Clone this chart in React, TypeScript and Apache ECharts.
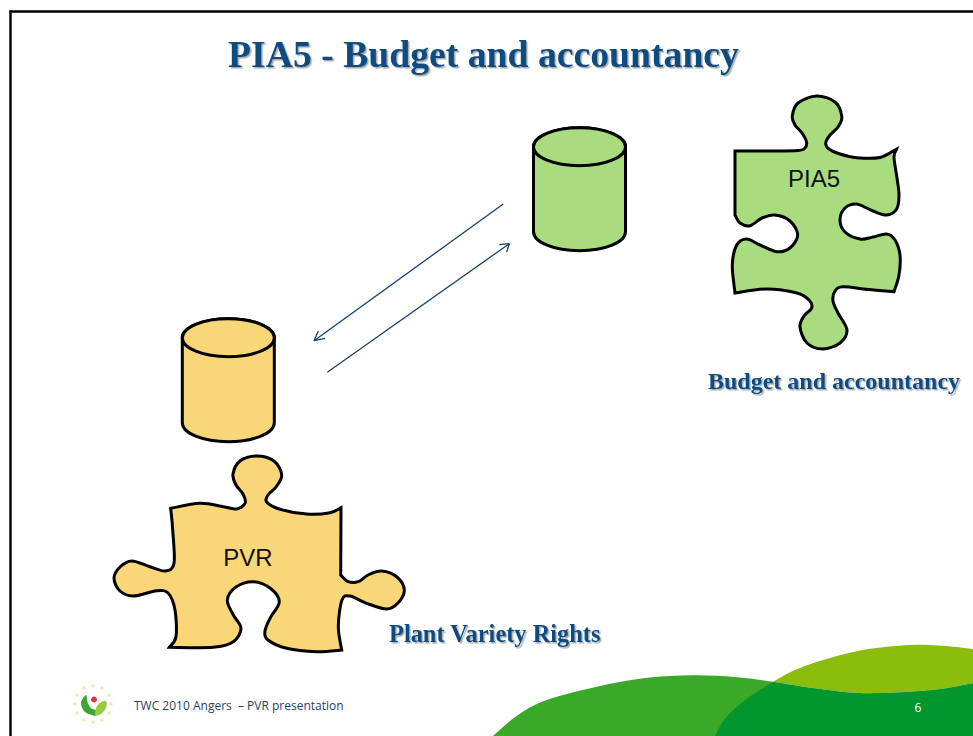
import React, { useEffect, useRef } from "react";
import * as echarts from "echarts";

const titleText = "PIA5 - Budget and accountancy";
const budgetText = "Budget and accountancy";
const plantText = "Plant Variety Rights";
const footerText = "TWC 2010 Angers  – PVR presentation";
const pageNumber = "6";

type Pt = [number, number];

const greenPuzzle: Pt[][] = [
  [[735, 151], [768, 151], [798, 150.5], [805, 148], [806.5, 142], [802, 133], [795, 125], [792.3, 116], [798, 103], [816.7, 96], [835, 102], [841.8, 116.7], [838, 127], [830, 135], [825.7, 143], [829, 149], [840, 154], [856.7, 157.7], [880, 157.5], [896.7, 149]],
  [[896.7, 149], [894, 157], [897, 178], [899, 195], [896.7, 209], [887, 215], [873, 211], [856.7, 204], [845, 208], [840, 220], [845, 232], [860, 239], [873, 237], [886.7, 234], [895, 240], [900, 255], [899, 275], [894, 291.7]],
  [[894, 291.7], [868, 289.5], [843, 286.7], [835, 291], [833, 301], [838, 313], [847, 330], [840, 343], [823, 349], [807, 343], [800, 327], [804, 316], [811.7, 308], [809, 300], [797, 293], [766.7, 289], [735, 293]],
  [[735, 293], [732.3, 265], [736.7, 245], [746.7, 239], [760, 245], [776.7, 251.7], [790, 248], [797.7, 235], [790, 221], [775, 215], [762, 218], [750, 225.7], [740, 223], [735, 215]],
  [[735, 215], [735, 151]],
];

const yellowPuzzle: Pt[][] = [
  [[170.7, 508.3], [200, 503.3], [223.3, 506.7], [236.7, 509], [245.2, 503], [243, 494], [236, 485], [233, 474], [240, 461], [256.7, 456], [274, 461], [281.7, 475], [276, 487], [268, 495], [266.7, 502], [280, 509.3], [306.7, 514], [330, 512.7], [341, 507.7]],
  [[341, 507.7], [340.7, 575]],
  [[340.7, 575], [348.3, 581.7], [358.3, 581.7], [368, 575], [381.7, 571], [397, 577], [404.3, 590], [398, 603], [386.7, 609], [366.7, 603.3], [350, 596], [342, 600], [338.3, 626.7], [341.7, 650]],
  [[341.7, 650], [316.7, 651.7], [286.7, 648.3], [268, 640], [265, 631], [270, 618.3], [279.3, 601.7], [270, 588], [253.3, 581.7], [236, 587], [227.3, 600], [233.3, 615], [241, 628.3], [233.3, 641.7], [213.3, 647.3], [169.3, 647.3]],
  [[169.3, 647.3], [176, 636.7], [175, 610], [168.3, 593.3], [156.7, 590.7], [133.3, 596], [120, 591], [114, 578.3], [120, 567], [131.7, 561], [150, 566.7], [165, 571], [174, 563.3], [172.7, 530], [170.7, 508.3]],
];

const darkWave: Pt[][] = [
  [[715, 736], [725, 719], [745, 700], [773.3, 681.7]],
  [[773.3, 681.7], [813, 688], [850, 692.5], [880, 693], [920, 691], [947, 688], [973, 683]],
  [[973, 683], [973, 736]],
  [[973, 736], [715, 736]],
];
const midWave: Pt[][] = [
  [[493, 736], [518, 715], [546.7, 700], [596.7, 686.7], [645, 678], [693, 675.3], [735, 677], [773.3, 681.7]],
  [[773.3, 681.7], [715, 736]],
  [[715, 736], [493, 736]],
];
const lightWave: Pt[][] = [
  [[773.3, 681.7], [795, 670], [823, 660], [863, 650], [910, 645], [945, 646], [973, 649]],
  [[973, 649], [973, 683]],
  [[973, 683], [947, 688], [920, 691], [880, 693], [850, 692.5], [813, 688], [773.3, 681.7]],
];

const leafLeft: Pt[][] = [[[95, 716], [85, 712], [81, 703], [86, 695], [87.5, 702], [91, 708], [97, 711], [95, 716]]];
const leafRight: Pt[][] = [[[95, 716], [101, 714], [106, 708], [106, 701], [100, 703], [96, 708], [95, 716]]];

const logoStars: Pt[] = [
  [93, 686], [102, 688], [109, 695], [111, 704], [109, 713], [102, 720], [93, 722],
  [84, 720], [77, 713], [75, 704], [77, 695], [84, 688],
];

// Catmull-Rom through each stroke; strokes meet at sharp corners.
function smoothPath(strokes: Pt[][]): string {
  let d = `M${strokes[0][0][0]} ${strokes[0][0][1]}`;
  for (const p of strokes) {
    for (let i = 0; i < p.length - 1; i++) {
      const p0 = p[Math.max(i - 1, 0)];
      const p1 = p[i];
      const p2 = p[i + 1];
      const p3 = p[Math.min(i + 2, p.length - 1)];
      const c1x = p1[0] + (p2[0] - p0[0]) / 6;
      const c1y = p1[1] + (p2[1] - p0[1]) / 6;
      const c2x = p2[0] - (p3[0] - p1[0]) / 6;
      const c2y = p2[1] - (p3[1] - p1[1]) / 6;
      d += `C${c1x} ${c1y} ${c2x} ${c2y} ${p2[0]} ${p2[1]}`;
    }
  }
  return d + "Z";
}

function cylinderBody(cx: number, cy: number, rx: number, ry: number, bottom: number): string {
  return `M${cx - rx} ${cy}L${cx - rx} ${bottom}A${rx} ${ry} 0 0 0 ${cx + rx} ${bottom}L${cx + rx} ${cy}A${rx} ${ry} 0 0 0 ${cx - rx} ${cy}Z`;
}

const shapes: Record<string, string> = {
  greenPuzzle: smoothPath(greenPuzzle),
  yellowPuzzle: smoothPath(yellowPuzzle),
  darkWave: smoothPath(darkWave),
  midWave: smoothPath(midWave),
  lightWave: smoothPath(lightWave),
  leafLeft: smoothPath(leafLeft),
  leafRight: smoothPath(leafRight),
  greenCyl: cylinderBody(579.5, 146.7, 46, 19, 231.7),
  yellowCyl: cylinderBody(228.3, 337.7, 46, 19, 422.7),
};
Object.keys(shapes).forEach((k) => {
  echarts.graphic.registerShape(k, echarts.graphic.extendPath(shapes[k] as any, {}) as any);
});

const GREEN = "#a9dc7f";
const YELLOW = "#f9d678";
const NAVY = "#0f4c81";
const ARROW = "#17406d";
const OUTLINE = 3;

const heading = (text: string, x: number, y: number, size: number) => ({
  type: "text",
  x,
  y,
  style: {
    text,
    fill: NAVY,
    font: `bold ${size}px "Liberation Serif"`,
    textAlign: "left",
    textVerticalAlign: "middle",
    textShadowColor: "rgba(90,100,110,0.55)",
    textShadowBlur: 1,
    textShadowOffsetX: 1.5,
    textShadowOffsetY: 1.5,
  },
});

const label = (text: string, x: number, y: number) => ({
  type: "text",
  x,
  y,
  style: { text, fill: "#111", font: '24px "Liberation Sans"', textAlign: "center", textVerticalAlign: "middle" },
});

const line = (x1: number, y1: number, x2: number, y2: number) => ({
  type: "line",
  shape: { x1, y1, x2, y2 },
  style: { stroke: ARROW, lineWidth: 1.3 },
});

const cylinder = (body: string, cx: number, cy: number, fill: string) => [
  { type: body, style: { fill, stroke: "#000", lineWidth: OUTLINE } },
  { type: "ellipse", shape: { cx, cy, rx: 46, ry: 19 }, style: { fill, stroke: "#000", lineWidth: OUTLINE } },
];

export default function App() {
  const ref = useRef<HTMLDivElement>(null);
  useEffect(() => {
    const chart = echarts.init(ref.current!, null, { renderer: "svg" });
    chart.setOption({
      animation: false,
      backgroundColor: "#fff",
      graphic: {
        elements: [
          { type: "midWave", style: { fill: "#3aa928" } },
          { type: "lightWave", style: { fill: "#8abd0c" } },
          { type: "darkWave", style: { fill: "#02962f" } },
          { type: "line", shape: { x1: 9.5, y1: 11.5, x2: 973, y2: 11.5 }, style: { stroke: "#000", lineWidth: 2.4 } },
          { type: "line", shape: { x1: 10.5, y1: 10.5, x2: 10.5, y2: 736 }, style: { stroke: "#000", lineWidth: 2.4 } },
          heading(titleText, 228, 54, 37.7),
          heading(budgetText, 708, 381, 24),
          heading(plantText, 389, 633, 24.4),
          { type: "greenPuzzle", style: { fill: GREEN, stroke: "#000", lineWidth: OUTLINE, lineJoin: "miter" } },
          { type: "yellowPuzzle", style: { fill: YELLOW, stroke: "#000", lineWidth: OUTLINE, lineJoin: "miter" } },
          label("PIA5", 814, 178),
          label("PVR", 248, 557),
          ...cylinder("greenCyl", 579.5, 146.7, GREEN),
          ...cylinder("yellowCyl", 228.3, 337.7, YELLOW),
          line(503.3, 204, 314, 340.7),
          line(314, 340.7, 318.3, 331),
          line(314, 340.7, 325, 338.3),
          line(327.3, 372.3, 509.3, 243.7),
          line(509.3, 243.7, 499.3, 244.7),
          line(509.3, 243.7, 506.7, 252),
          ...logoStars.map(([cx, cy]) => ({
            type: "circle",
            shape: { cx, cy, r: 1.8 },
            style: { fill: "#f2eaa8" },
          })),
          { type: "leafLeft", style: { fill: "#3fa535" } },
          { type: "leafRight", style: { fill: "#9acb3c" } },
          { type: "circle", shape: { cx: 94, cy: 699.5, r: 3 }, style: { fill: "#d9383f" } },
          {
            type: "text",
            x: 134,
            y: 705.5,
            style: { text: footerText, fill: "#1f3f66", font: '12px "Open Sans"', textAlign: "left", textVerticalAlign: "middle" },
          },
          {
            type: "text",
            x: 918,
            y: 707,
            style: { text: pageNumber, fill: "#fff", font: '12px "Open Sans"', textAlign: "center", textVerticalAlign: "middle" },
          },
        ],
      },
    });
    return () => chart.dispose();
  }, []);
  return <div ref={ref} style={{ position: "absolute", left: 0, top: 0, width: 973, height: 736 }} />;
}
